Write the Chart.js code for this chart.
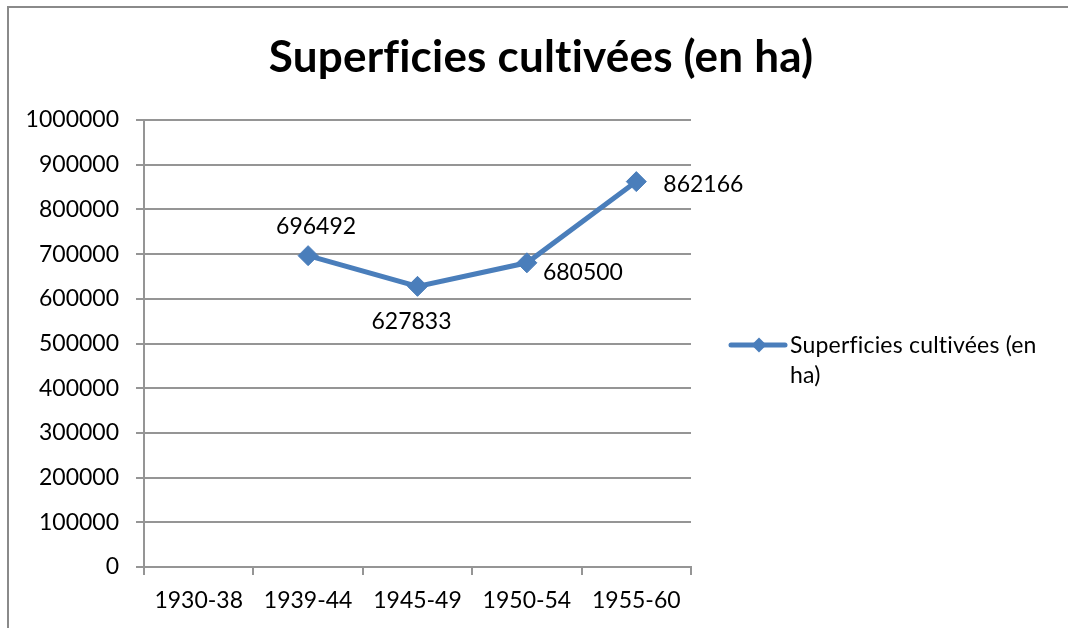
<!DOCTYPE html>
<html>
<head>
<meta charset="utf-8">
<script src="https://cdn.jsdelivr.net/npm/chart.js@4/dist/chart.umd.min.js"></script>
<style>
html,body{margin:0;padding:0;background:#fff;}
#wrap{width:1068px;height:628px;position:relative;}
</style>
</head>
<body>
<div id="wrap"><canvas id="c" width="1068" height="628"></canvas></div>
<script>
// ---- Data ----
const categories = ['1930-38', '1939-44', '1945-49', '1950-54', '1955-60'];
const surfaceValues = [null, 696492, 627833, 680500, 862166];
const yTickValues = [0, 100000, 200000, 300000, 400000, 500000, 600000, 700000, 800000, 900000, 1000000];
const seriesLabel = 'Superficies cultivées (en ha)';
const chartTitle = 'Superficies cultivées (en ha)';

// ---- Styles ----
const FONT = 'Lato, "Open Sans", sans-serif';
const LINE_COLOR = '#4A7EBB';
const GRID_COLOR = '#959595';

const decorPlugin = {
  id: 'decor',
  beforeDraw(chart) {
    const ctx = chart.ctx;
    ctx.save();
    ctx.fillStyle = '#fff';
    ctx.fillRect(0, 0, chart.width, chart.height);
    // outer frame (top + left visible)
    ctx.strokeStyle = '#8a8a8a';
    ctx.lineWidth = 2;
    ctx.beginPath();
    ctx.moveTo(8, chart.height + 5);
    ctx.lineTo(8, 7);
    ctx.lineTo(chart.width + 5, 7);
    ctx.stroke();
    ctx.restore();
  },
  afterDraw(chart, args, opts) {
    const ctx = chart.ctx;
    ctx.save();
    if ('letterSpacing' in ctx) ctx.letterSpacing = '0.2px';
    // title
    ctx.fillStyle = '#000';
    ctx.font = 'bold ' + opts.titleSize + 'px ' + FONT;
    ctx.textAlign = 'center';
    ctx.textBaseline = 'alphabetic';
    ctx.fillText(chartTitle, opts.titleX, opts.titleY);

    // legend
    const lx = opts.legendX, ly = opts.legendY;
    ctx.strokeStyle = LINE_COLOR;
    ctx.lineWidth = 5;
    ctx.lineCap = 'round';
    ctx.beginPath();
    ctx.moveTo(lx, ly);
    ctx.lineTo(lx + 54, ly);
    ctx.stroke();
    ctx.fillStyle = LINE_COLOR;
    ctx.beginPath();
    const cx = lx + 28, r = 7.5;
    ctx.moveTo(cx, ly - r); ctx.lineTo(cx + r, ly); ctx.lineTo(cx, ly + r); ctx.lineTo(cx - r, ly);
    ctx.closePath();
    ctx.fill();

    ctx.fillStyle = '#000';
    ctx.font = opts.fontSize + 'px ' + FONT;
    ctx.textAlign = 'left';
    const words = seriesLabel.split(' ');
    const maxW = chart.width - opts.legendTextX - 8;
    const lines = [];
    let cur = '';
    words.forEach(w => {
      const t = cur ? cur + ' ' + w : w;
      if (ctx.measureText(t).width > maxW && cur) { lines.push(cur); cur = w; } else { cur = t; }
    });
    if (cur) lines.push(cur);
    lines.forEach((l, i) => ctx.fillText(l, opts.legendTextX, opts.legendTextY + i * opts.lineGap));
    ctx.restore();
  },
  afterDatasetsDraw(chart, args, opts) {
    const ctx = chart.ctx;
    const meta = chart.getDatasetMeta(0);
    ctx.save();
    ctx.fillStyle = '#000';
    ctx.font = opts.fontSize + 'px ' + FONT;
    ctx.textBaseline = 'alphabetic';
    meta.data.forEach((pt, i) => {
      const v = chart.data.datasets[0].data[i];
      if (v === null || v === undefined) return;
      const o = opts.labelOffsets[i];
      ctx.textAlign = o[2];
      ctx.fillText(String(v), pt.x + o[0], pt.y + o[1]);
    });
    ctx.restore();
  }
};

new Chart(document.getElementById('c'), {
  type: 'line',
  data: {
    labels: categories,
    datasets: [{
      label: seriesLabel,
      data: surfaceValues,
      borderColor: LINE_COLOR,
      backgroundColor: LINE_COLOR,
      borderWidth: 5,
      pointStyle: 'rectRot',
      pointRadius: 10,
      pointHoverRadius: 10,
      pointBackgroundColor: LINE_COLOR,
      pointBorderColor: LINE_COLOR,
      pointBorderWidth: 1,
      tension: 0,
      fill: false
    }]
  },
  options: {
    responsive: false,
    animation: false,
    events: [],
    layout: { padding: { left: 0, right: 377, top: 120, bottom: 0 } },
    plugins: {
      legend: { display: false },
      title: { display: false },
      tooltip: { enabled: false },
      decor: {
        fontSize: 23,
        titleSize: 44,
        titleX: 541,
        titleY: 72,
        legendX: 731,
        legendY: 345,
        legendTextX: 790,
        legendTextY: 353,
        lineGap: 30,
        labelOffsets: [
          [0, 0, 'center'],
          [8, -22, 'center'],
          [-6, 43, 'center'],
          [16, 17, 'left'],
          [27, 10, 'left']
        ]
      }
    },
    scales: {
      x: {
        type: 'category',
        offset: true,
        grid: { display: true, offset: true, drawOnChartArea: false, drawTicks: true, tickLength: 8, color: GRID_COLOR, lineWidth: 2 },
        border: { display: true, color: GRID_COLOR, width: 2 },
        ticks: { color: '#000', font: { family: FONT, size: 23 }, padding: 12, maxRotation: 0, autoSkip: false },
        afterFit(scale) { scale.height = 61; }
      },
      y: {
        min: 0,
        max: 1000000,
        afterBuildTicks(scale) { scale.ticks = yTickValues.map(v => ({ value: v })); },
        grid: { color: GRID_COLOR, lineWidth: 2, drawTicks: true, tickLength: 8 },
        border: { display: true, color: GRID_COLOR, width: 2 },
        ticks: { color: '#000', font: { family: FONT, size: 23 }, padding: 17, callback: v => String(v) },
        afterFit(scale) { scale.width = 144; }
      }
    }
  },
  plugins: [decorPlugin]
});
</script>
</body>
</html>
